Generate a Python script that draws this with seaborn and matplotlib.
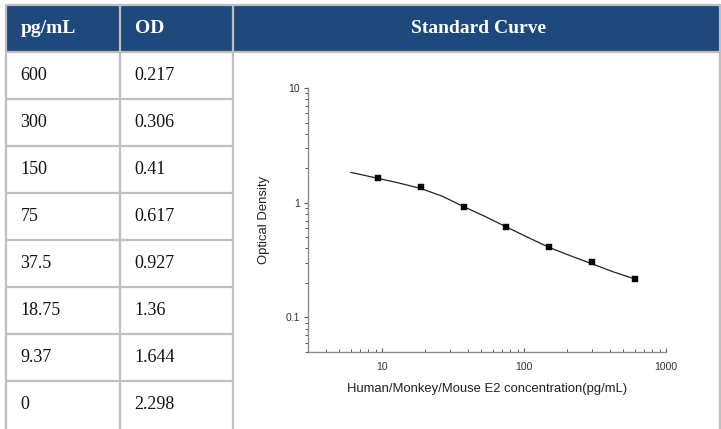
import numpy as np
import pandas as pd
import matplotlib
matplotlib.use("Agg")
import matplotlib.pyplot as plt
import seaborn as sns
from matplotlib.patches import Rectangle
from matplotlib.ticker import LogLocator, NullFormatter, FixedLocator, FixedFormatter

# ---------------- data ----------------
headers = ["pg/mL", "OD", "Standard Curve"]
conc_labels = ["600", "300", "150", "75", "37.5", "18.75", "9.37", "0"]
od_labels = ["0.217", "0.306", "0.41", "0.617", "0.927", "1.36", "1.644", "2.298"]

conc = [600, 300, 150, 75, 37.5, 18.75, 9.37]
od = [0.217, 0.306, 0.41, 0.617, 0.927, 1.36, 1.644]

# fitted curve
curve_conc = [6.0, 9.37, 13.0, 18.75, 26.5, 37.5, 53, 75, 106, 150, 212, 300, 424, 600]
curve_od = [1.84, 1.63, 1.49, 1.33, 1.14, 0.925, 0.76, 0.615, 0.50, 0.408, 0.345, 0.294, 0.25, 0.217]

x_label = "Human/Monkey/Mouse E2 concentration(pg/mL)"
y_label = "Optical Density"
x_ticks = [10, 100, 1000]
x_tick_labels = ["10", "100", "1000"]
y_ticks = [0.1, 1, 10]
y_tick_labels = ["0.1", "1", "10"]

# ---------------- style ----------------
sns.set_theme(style="white")
plt.rcParams["font.family"] = ["Liberation Sans", "DejaVu Sans"]

W, H = 721, 429
fig = plt.figure(figsize=(W / 100, H / 100), dpi=100)
fig.patch.set_facecolor("white")

# ---------------- table background ----------------
bg = fig.add_axes([0, 0, 1, 1])
bg.set_xlim(0, W)
bg.set_ylim(H, 0)
bg.axis("off")

col_x = [6, 119.5, 233, 720]
head_top, head_bot = 5, 52
row_h = 47
border = "#BFBFBF"
blue = "#1F497D"
serif = ["Liberation Serif", "DejaVu Serif"]

bg.add_patch(Rectangle((col_x[0], head_top), col_x[-1] - col_x[0], head_bot - head_top,
                       facecolor=blue, edgecolor="none", zorder=1))
# header borders
bg.plot([col_x[0], col_x[-1]], [head_top, head_top], color=border, lw=1.6, zorder=2)
bg.plot([col_x[0], col_x[-1]], [head_bot, head_bot], color=border, lw=1.6, zorder=2)
for cx in col_x:
    bg.plot([cx, cx], [head_top, H + 5], color=border, lw=1.6, zorder=2)
# body row lines (first two columns)
for i in range(1, len(conc_labels)):
    yy = head_bot + i * row_h
    bg.plot([col_x[0], col_x[2]], [yy, yy], color=border, lw=1.6, zorder=2)

# header text
hmid = (head_top + head_bot) / 2
bg.text(col_x[0] + 15, hmid, headers[0], color="white", fontsize=14, fontweight="bold",
        family=serif, va="center", ha="left", zorder=3)
bg.text(col_x[1] + 15, hmid, headers[1], color="white", fontsize=14, fontweight="bold",
        family=serif, va="center", ha="left", zorder=3)
bg.text((col_x[2] + col_x[3]) / 2 + 2, hmid, headers[2], color="white", fontsize=14,
        fontweight="bold", family=serif, va="center", ha="center", zorder=3)

for i, (c, o) in enumerate(zip(conc_labels, od_labels)):
    ymid = head_bot + row_h * i + row_h / 2
    bg.text(col_x[0] + 14.5, ymid, c, color="#111111", fontsize=13, family=serif,
            va="center", ha="left", zorder=3)
    bg.text(col_x[1] + 14.5, ymid, o, color="#111111", fontsize=13, family=serif,
            va="center", ha="left", zorder=3)

# ---------------- chart ----------------
ax_l, ax_r, ax_t, ax_b = 308, 666, 88, 352
ax = fig.add_axes([ax_l / W, 1 - ax_b / H, (ax_r - ax_l) / W, (ax_b - ax_t) / H])
ax.set_facecolor("none")

curve_df = pd.DataFrame({"conc": curve_conc, "od": curve_od})
pts_df = pd.DataFrame({"conc": conc, "od": od})

sns.lineplot(data=curve_df, x="conc", y="od", ax=ax, color="#222222", lw=0.9,
             sort=False, estimator=None)
sns.scatterplot(data=pts_df, x="conc", y="od", ax=ax, marker="s", s=17,
                color="black", edgecolor="black", linewidth=0.3, zorder=5)

ax.set_xscale("log")
ax.set_yscale("log")
ax.set_xlim(3, 1000)
ax.set_ylim(0.05, 10)

ax.xaxis.set_major_locator(FixedLocator(x_ticks))
ax.xaxis.set_major_formatter(FixedFormatter(x_tick_labels))
ax.yaxis.set_major_locator(FixedLocator(y_ticks))
ax.yaxis.set_major_formatter(FixedFormatter(y_tick_labels))
ax.xaxis.set_minor_locator(LogLocator(base=10, subs=np.arange(2, 10), numticks=20))
ax.yaxis.set_minor_locator(LogLocator(base=10, subs=np.arange(2, 10), numticks=20))
ax.xaxis.set_minor_formatter(NullFormatter())
ax.yaxis.set_minor_formatter(NullFormatter())

spine_c = "#8C8C8C"
for s in ["top", "right"]:
    ax.spines[s].set_visible(False)
for s in ["left", "bottom"]:
    ax.spines[s].set_color(spine_c)
    ax.spines[s].set_linewidth(1.0)

ax.tick_params(axis="x", which="major", direction="in", length=3.2, width=0.8,
               color="#555555", labelsize=7.5, labelcolor="#333333", pad=7, bottom=True)
ax.tick_params(axis="x", which="minor", direction="in", length=2.0, width=0.7,
               color="#555555", bottom=True)
ax.tick_params(axis="y", which="major", direction="out", length=3.2, width=0.8,
               color="#555555", labelsize=7.5, labelcolor="#333333", pad=2.5, left=True)
ax.tick_params(axis="y", which="minor", direction="out", length=2.0, width=0.7,
               color="#555555", left=True)

ax.set_xlabel(x_label, fontsize=9.4, color="#222222", labelpad=8)
ax.set_ylabel(y_label, fontsize=9.4, color="#222222", labelpad=11)

fig.savefig("out.png", dpi=100)
